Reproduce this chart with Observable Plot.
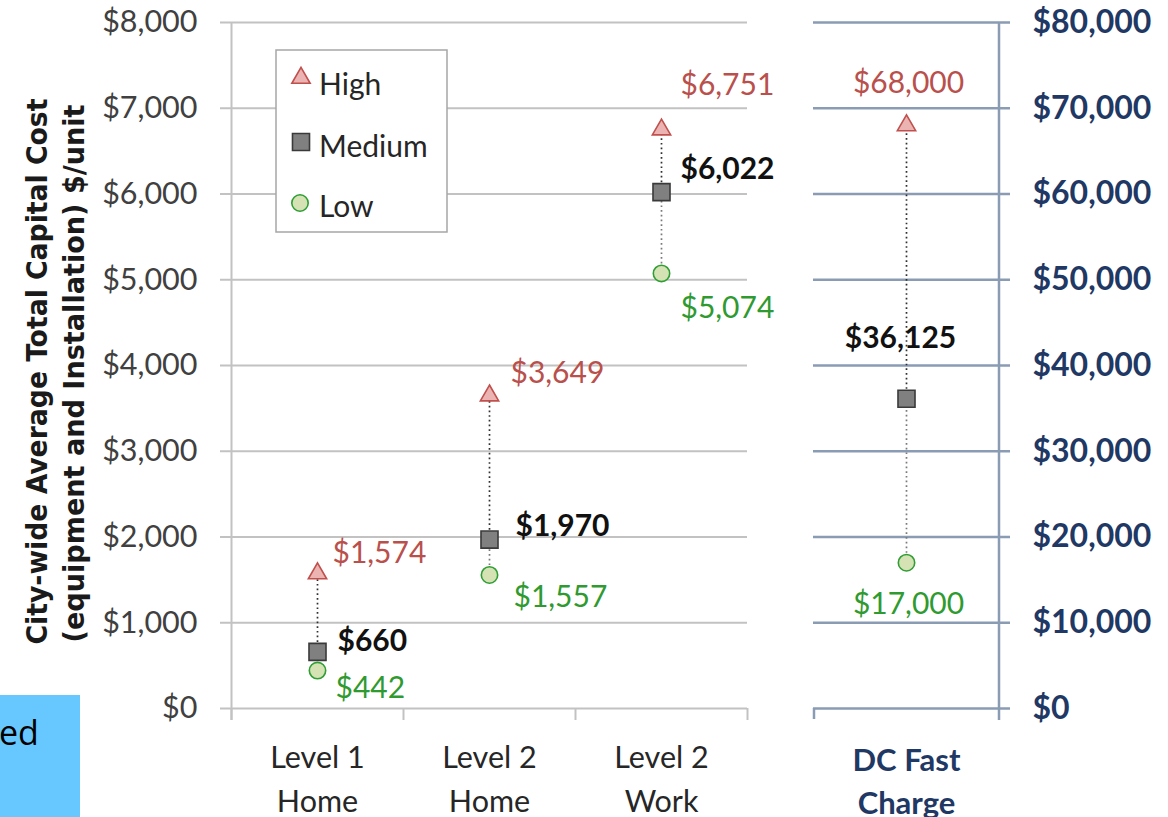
<!DOCTYPE html>
<html><head><meta charset="utf-8">
<script src="https://cdn.jsdelivr.net/npm/d3@7"></script>
<script src="https://cdn.jsdelivr.net/npm/@observablehq/plot@0.6"></script>
<style>
html,body{margin:0;padding:0;background:#fff;}
#wrap{position:relative;width:1168px;height:817px;overflow:hidden;font-family:Lato,sans-serif;}
#left,#right,#legend,#note{position:absolute;top:0;}
#left{left:0px;}
#right{left:780px;}
#legend{left:275px;top:49px;}
#note{left:0px;top:695px;}
</style>
</head><body>
<div id="wrap"><div id="left"></div><div id="right"></div><svg id="legend" width="173" height="184"></svg><svg id="note" width="80" height="122"></svg></div>
<script>
// ---------- data ----------
const categories = ["Level 1 Home", "Level 2 Home", "Level 2 Work"];
const fastCategory = ["DC Fast Charge"];
const levels = ["High", "Medium", "Low"];
const highCost = [1574, 3649, 6751];
const mediumCost = [660, 1970, 6022];
const lowCost = [442, 1557, 5074];
const fastHigh = [68000];
const fastMedium = [36125];
const fastLow = [17000];
const leftTicks = [0, 1000, 2000, 3000, 4000, 5000, 6000, 7000, 8000];
const rightTicks = [0, 10000, 20000, 30000, 40000, 50000, 60000, 70000, 80000];
const yTitle = ["City-wide Average Total Capital Cost", "(equipment and Installation) $/unit"];

// ---------- presentation ----------
const fmt = d3.format("$,");
const catLabel = d => d.replace(/ (\S+)$/, "\n$1");
const levelStyle = {
  High:   {symbol: "triangle", d3sym: d3.symbolTriangle, r: 6.8, fill: "#ebb3b1", stroke: "#c0504d", text: "#b9504c", weight: "normal"},
  Medium: {symbol: "square",   d3sym: d3.symbolSquare,   r: 9.6, fill: "#808080", stroke: "#3a3a3a", text: "#111111", weight: "bold"},
  Low:    {symbol: "circle",   d3sym: d3.symbolCircle,   r: 8.2, fill: "#d5e2b3", stroke: "#2f9e35", text: "#2f9a2f", weight: "normal"}
};
// label offsets [dx, dy, anchor] per category/level
const labelOffsets = {
  "Level 1 Home":   {High: [15, -20, "start"], Medium: [20, -11, "start"], Low: [18, 18, "start"]},
  "Level 2 Home":   {High: [21, -22, "start"], Medium: [26, -13, "start"], Low: [24, 22, "start"]},
  "Level 2 Work":   {High: [19, -44, "start"], Medium: [19, -23, "start"], Low: [19, 35, "start"]},
  "DC Fast Charge": {High: [2, -42, "middle"], Medium: [-6, -60, "middle"], Low: [2, 42, "middle"]}
};
const FONT = "Lato, 'Open Sans', sans-serif";
const TITLEFONT = "'Liberation Sans Narrow', 'DejaVu Sans Condensed', 'Liberation Sans', sans-serif";

function rowsFor(cats, hi, med, lo) {
  return cats.flatMap((c, i) => [
    {cat: c, level: "High", value: hi[i]},
    {cat: c, level: "Medium", value: med[i]},
    {cat: c, level: "Low", value: lo[i]}
  ]);
}

function pointMarks(rows, cats) {
  const marks = [];
  const get = (c, l) => rows.find(r => r.cat === c && r.level === l).value;
  marks.push(Plot.ruleX(cats, {x: d => d, y1: c => get(c, "Medium"), y2: c => get(c, "High"),
    stroke: "#303030", strokeWidth: 1.7, strokeDasharray: "1.7,3"}));
  marks.push(Plot.ruleX(cats, {x: d => d, y1: c => get(c, "Low"), y2: c => get(c, "Medium"),
    stroke: "#7a7a7a", strokeWidth: 1.7, strokeDasharray: "1.7,3"}));
  for (const lv of levels) {
    const st = levelStyle[lv];
    marks.push(Plot.dot(rows.filter(r => r.level === lv), {x: "cat", y: "value", symbol: st.symbol, r: st.r,
      fill: st.fill, stroke: st.stroke, strokeWidth: 1.6}));
  }
  for (const row of rows) {
    const st = levelStyle[row.level];
    const off = labelOffsets[row.cat][row.level];
    marks.push(Plot.text([row], {x: "cat", y: "value", text: d => fmt(d.value), dx: off[0], dy: off[1],
      textAnchor: off[2], fill: st.text, fontWeight: st.weight, fontSize: 30, fontFamily: FONT}));
  }
  return marks;
}

// ---------- left panel ----------
const LW = 790, LML = 231, LMR = 43;
const lstep = (LW - LML - LMR) / categories.length;
const leftRows = rowsFor(categories, highCost, mediumCost, lowCost);
const gridGrey = "#c2c2c2";
const left = Plot.plot({
  width: LW, height: 817,
  marginLeft: LML, marginRight: LMR, marginTop: 22, marginBottom: 109,
  x: {type: "point", domain: categories, padding: 0.5, axis: null},
  y: {domain: [0, 8000], axis: null},
  style: {background: "transparent", overflow: "visible", fontFamily: FONT},
  marks: [
    Plot.ruleY(leftTicks, {y: d => d, stroke: gridGrey, strokeWidth: 2, insetLeft: -11}),
    Plot.ruleX([categories[0]], {x: d => d, y1: 8000, y2: 0, dx: -lstep / 2, insetBottom: -12, stroke: gridGrey, strokeWidth: 2}),
    Plot.ruleX(categories, {x: d => d, y1: 0, y2: 0, dx: -lstep / 2, insetBottom: -12, stroke: gridGrey, strokeWidth: 2}),
    Plot.ruleX([categories[categories.length - 1]], {x: d => d, y1: 0, y2: 0, dx: lstep / 2, insetBottom: -12, stroke: gridGrey, strokeWidth: 2}),
    Plot.text(leftTicks, {y: d => d, text: d => fmt(d), frameAnchor: "left", textAnchor: "end", dx: -34,
      fontSize: 30.5, fill: "#404040", fontFamily: FONT}),
    Plot.text(categories, {x: d => d, text: catLabel, frameAnchor: "bottom", lineAnchor: "top", dy: 29,
      lineHeight: 1.42, fontSize: 30.5, fill: "#262626", fontFamily: FONT}),
    Plot.text([yTitle[0]], {text: d => d, frameAnchor: "left", rotate: -90, dx: -193, dy: 279, textAnchor: "start",
      fontSize: 28, fontWeight: "bold", fill: "#1a1a1a", fontFamily: TITLEFONT}),
    Plot.text([yTitle[1]], {text: d => d, frameAnchor: "left", rotate: -90, dx: -156, dy: 277, textAnchor: "start",
      fontSize: 28, fontWeight: "bold", fill: "#1a1a1a", fontFamily: TITLEFONT}),
    ...pointMarks(leftRows, categories)
  ]
});
document.getElementById("left").append(left);
d3.select(left).selectAll("text").each(function() {
  if (this.textContent === yTitle[0]) {
    this.setAttribute("textLength", 546);
    this.setAttribute("lengthAdjust", "spacingAndGlyphs");
  } else if (this.textContent === yTitle[1]) {
    this.setAttribute("textLength", 538);
    this.setAttribute("lengthAdjust", "spacingAndGlyphs");
  }
});

// ---------- right panel ----------
const RW = 388, RML = 33, RMR = 170;
const rstep = (RW - RML - RMR) / fastCategory.length;
const rightRows = rowsFor(fastCategory, fastHigh, fastMedium, fastLow);
const navyGrid = "#8a9bb4";
const navy = "#1f3864";
const right = Plot.plot({
  width: RW, height: 817,
  marginLeft: RML, marginRight: RMR, marginTop: 22, marginBottom: 109,
  x: {type: "point", domain: fastCategory, padding: 0.5, axis: null},
  y: {domain: [0, 80000], axis: null},
  style: {background: "transparent", overflow: "visible", fontFamily: FONT},
  marks: [
    Plot.ruleY(rightTicks, {y: d => d, stroke: navyGrid, strokeWidth: 2.5, insetRight: -12}),
    Plot.ruleX(fastCategory, {x: d => d, y1: 80000, y2: 0, dx: rstep / 2, insetBottom: -12, stroke: navyGrid, strokeWidth: 2.5}),
    Plot.ruleX(fastCategory, {x: d => d, y1: 0, y2: 0, dx: -rstep / 2, insetBottom: -11, stroke: navyGrid, strokeWidth: 2.5}),
    Plot.text(rightTicks, {y: d => d, text: d => fmt(d), frameAnchor: "right", textAnchor: "start", dx: 34,
      fontSize: 32, fontWeight: "bold", fill: navy, fontFamily: FONT}),
    Plot.text(fastCategory, {x: d => d, text: catLabel, frameAnchor: "bottom", lineAnchor: "top", dy: 32,
      lineHeight: 1.38, fontSize: 31, fontWeight: "bold", fill: navy, fontFamily: FONT}),
    ...pointMarks(rightRows, fastCategory)
  ]
});
document.getElementById("right").append(right);

// ---------- legend ----------
const lg = d3.select("#legend");
lg.append("rect").attr("x", 1).attr("y", 1).attr("width", 171).attr("height", 182)
  .attr("fill", "#fff").attr("stroke", "#a6a6a6").attr("stroke-width", 1.5);
const legendPos = {High: [26, 29, 35], Medium: [26, 93, 97], Low: [25, 154, 157]};
for (const lv of levels) {
  const st = levelStyle[lv], p = legendPos[lv];
  lg.append("path").attr("transform", `translate(${p[0]},${p[1]})`)
    .attr("d", d3.symbol(st.d3sym, Math.PI * st.r * st.r)())
    .attr("fill", st.fill).attr("stroke", st.stroke).attr("stroke-width", 1.6);
  lg.append("text").attr("x", 44).attr("y", p[2]).attr("dy", "0.35em")
    .attr("font-family", FONT).attr("font-size", 30).attr("fill", "#262626").text(lv);
}

// ---------- cropped note box ----------
const nt = d3.select("#note");
nt.append("rect").attr("width", 80).attr("height", 122).attr("fill", "#66c8ff");
nt.append("text").attr("x", -1).attr("y", 50).attr("font-family", "'Open Sans', sans-serif")
  .attr("font-size", 34).attr("fill", "#000").text("ed");
</script>
</body></html>
